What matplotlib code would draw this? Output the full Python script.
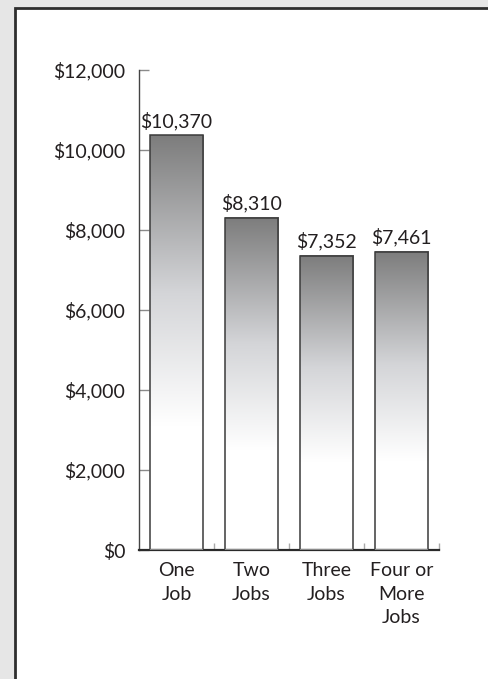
import matplotlib
matplotlib.use("Agg")
import matplotlib.pyplot as plt
import numpy as np
from matplotlib.patches import Rectangle
from matplotlib.colors import LinearSegmentedColormap

categories = ["One\nJob", "Two\nJobs", "Three\nJobs", "Four or\nMore\nJobs"]
values = [10370, 8310, 7352, 7461]
value_labels = ["$10,370", "$8,310", "$7,352", "$7,461"]
y_ticks = [0, 2000, 4000, 6000, 8000, 10000, 12000]
y_tick_labels = ["$0", "$2,000", "$4,000", "$6,000", "$8,000", "$10,000", "$12,000"]

plt.rcParams['font.family'] = ['Lato', 'DejaVu Sans']

W, H = 488, 679
fig = plt.figure(figsize=(W / 100, H / 100), dpi=100)
fig.patch.set_facecolor("#e6e6e6")

# white panel with dark border
panel = Rectangle((15 / W, -0.05), 1.0, 1 - 7.5 / H + 0.05, transform=fig.transFigure,
                  facecolor="white", edgecolor="#2e2e2e", linewidth=2.0, zorder=-10)
fig.add_artist(panel)

ax = fig.add_axes([139 / W, 1 - 550 / H, 300 / W, 480 / H])
ax.set_zorder(5)
ax.set_facecolor("none")

cmap = LinearSegmentedColormap.from_list("g", [(0, "#ffffff"), (0.30, "#ffffff"), (0.62, "#d4d5d8"), (1.0, "#7d7d7d")])
grad = np.linspace(0, 1, 256).reshape(-1, 1)
bw = 0.71
fs = 14
for i, v in enumerate(values):
    x0 = i - bw / 2
    ax.imshow(grad, cmap=cmap, aspect="auto", origin="lower",
              extent=(x0, x0 + bw, 0, v), zorder=2, interpolation="bilinear")
    rect = Rectangle((x0, 0), bw, v, facecolor="none", edgecolor="#3a3a3a", linewidth=1.1, zorder=3)
    ax.add_patch(rect)
    ax.hlines(0, x0, x0 + bw, color="#8a8a8a", linewidth=1.6, zorder=4)
    ax.text(i, v + 130, value_labels[i], ha="center", va="bottom", fontsize=fs, color="#231f20")

ax.set_xlim(-0.5, len(values) - 0.5)
ax.set_ylim(0, 12000)

for s in ["top", "right"]:
    ax.spines[s].set_visible(False)
ax.spines["left"].set_color("#444444")
ax.spines["left"].set_linewidth(1.0)
ax.spines["bottom"].set_color("#2a2a2a")
ax.spines["bottom"].set_linewidth(1.6)

ax.set_yticks(y_ticks)
ax.set_yticklabels(y_tick_labels)
ax.tick_params(axis="y", direction="in", length=7, width=1.0, color="#8a8a8a",
               pad=10, labelsize=fs, labelcolor="#231f20")

ax.set_xticks(np.arange(len(values)))
ax.set_xticklabels(categories, linespacing=1.45)
ax.tick_params(axis="x", length=0, pad=9, labelsize=fs, labelcolor="#231f20")
for lab in ax.get_xticklabels():
    lab.set_va("top")

ax.set_xticks(np.arange(len(values)) + 0.5, minor=True)
ax.tick_params(axis="x", which="minor", direction="in", length=5, width=1.0, color="#aaaaaa")

fig.savefig("out.png", dpi=100, facecolor=fig.get_facecolor())
